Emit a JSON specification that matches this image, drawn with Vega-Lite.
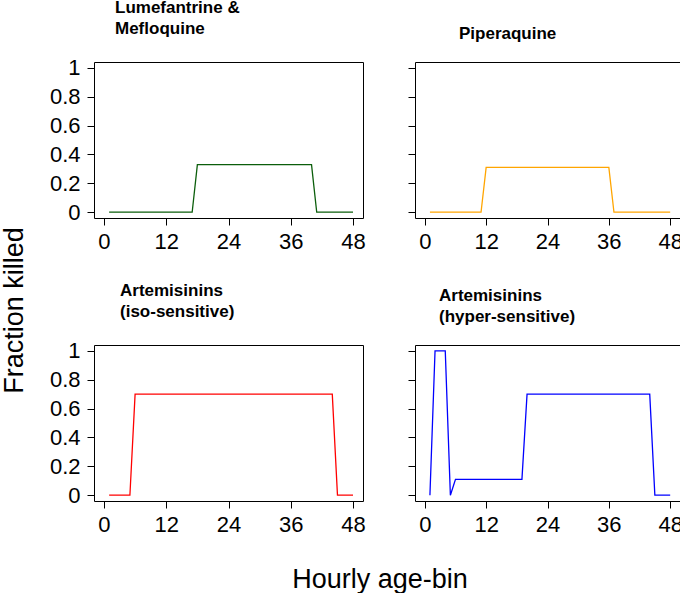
{
  "$schema": "https://vega.github.io/schema/vega-lite/v6.json",
  "padding": {"left": 0, "top": -2, "right": 0, "bottom": 0},
  "background": "white",
  "config": {
    "font": "Liberation Sans",
    "view": {"stroke": "black", "strokeWidth": 1},
    "axis": {
      "domain": false,
      "grid": false,
      "tickSize": 7,
      "tickColor": "black",
      "tickWidth": 1,
      "labelFontSize": 22,
      "labelColor": "black",
      "labelFont": "Liberation Sans",
      "labelFlush": false,
      "labelOverlap": false,
      "titleFontSize": 27,
      "titleFontWeight": "normal",
      "titleColor": "black",
      "titleFont": "Liberation Sans"
    },
    "axisX": {"labelPadding": 6},
    "axisY": {"labelPadding": 7},
    "title": {
      "fontSize": 17,
      "fontWeight": "bold",
      "font": "Liberation Sans",
      "color": "black",
      "anchor": "start",
      "frame": "group",
      "baseline": "bottom",
      "lineHeight": 21,
      "offset": 19
    }
  },
  "datasets": {
    "lm": [
      {"hour":1,"killed":0},{"hour":2,"killed":0},{"hour":3,"killed":0},{"hour":4,"killed":0},{"hour":5,"killed":0},{"hour":6,"killed":0},{"hour":7,"killed":0},{"hour":8,"killed":0},{"hour":9,"killed":0},{"hour":10,"killed":0},{"hour":11,"killed":0},{"hour":12,"killed":0},{"hour":13,"killed":0},{"hour":14,"killed":0},{"hour":15,"killed":0},{"hour":16,"killed":0},{"hour":17,"killed":0},
      {"hour":18,"killed":0.33},{"hour":19,"killed":0.33},{"hour":20,"killed":0.33},{"hour":21,"killed":0.33},{"hour":22,"killed":0.33},{"hour":23,"killed":0.33},{"hour":24,"killed":0.33},{"hour":25,"killed":0.33},{"hour":26,"killed":0.33},{"hour":27,"killed":0.33},{"hour":28,"killed":0.33},{"hour":29,"killed":0.33},{"hour":30,"killed":0.33},{"hour":31,"killed":0.33},{"hour":32,"killed":0.33},{"hour":33,"killed":0.33},{"hour":34,"killed":0.33},{"hour":35,"killed":0.33},{"hour":36,"killed":0.33},{"hour":37,"killed":0.33},{"hour":38,"killed":0.33},{"hour":39,"killed":0.33},{"hour":40,"killed":0.33},
      {"hour":41,"killed":0},{"hour":42,"killed":0},{"hour":43,"killed":0},{"hour":44,"killed":0},{"hour":45,"killed":0},{"hour":46,"killed":0},{"hour":47,"killed":0},{"hour":48,"killed":0}
    ],
    "ppq": [
      {"hour":1,"killed":0},{"hour":2,"killed":0},{"hour":3,"killed":0},{"hour":4,"killed":0},{"hour":5,"killed":0},{"hour":6,"killed":0},{"hour":7,"killed":0},{"hour":8,"killed":0},{"hour":9,"killed":0},{"hour":10,"killed":0},{"hour":11,"killed":0},
      {"hour":12,"killed":0.31},{"hour":13,"killed":0.31},{"hour":14,"killed":0.31},{"hour":15,"killed":0.31},{"hour":16,"killed":0.31},{"hour":17,"killed":0.31},{"hour":18,"killed":0.31},{"hour":19,"killed":0.31},{"hour":20,"killed":0.31},{"hour":21,"killed":0.31},{"hour":22,"killed":0.31},{"hour":23,"killed":0.31},{"hour":24,"killed":0.31},{"hour":25,"killed":0.31},{"hour":26,"killed":0.31},{"hour":27,"killed":0.31},{"hour":28,"killed":0.31},{"hour":29,"killed":0.31},{"hour":30,"killed":0.31},{"hour":31,"killed":0.31},{"hour":32,"killed":0.31},{"hour":33,"killed":0.31},{"hour":34,"killed":0.31},{"hour":35,"killed":0.31},{"hour":36,"killed":0.31},
      {"hour":37,"killed":0},{"hour":38,"killed":0},{"hour":39,"killed":0},{"hour":40,"killed":0},{"hour":41,"killed":0},{"hour":42,"killed":0},{"hour":43,"killed":0},{"hour":44,"killed":0},{"hour":45,"killed":0},{"hour":46,"killed":0},{"hour":47,"killed":0},{"hour":48,"killed":0}
    ],
    "iso": [
      {"hour":1,"killed":0},{"hour":2,"killed":0},{"hour":3,"killed":0},{"hour":4,"killed":0},{"hour":5,"killed":0},
      {"hour":6,"killed":0.7},{"hour":7,"killed":0.7},{"hour":8,"killed":0.7},{"hour":9,"killed":0.7},{"hour":10,"killed":0.7},{"hour":11,"killed":0.7},{"hour":12,"killed":0.7},{"hour":13,"killed":0.7},{"hour":14,"killed":0.7},{"hour":15,"killed":0.7},{"hour":16,"killed":0.7},{"hour":17,"killed":0.7},{"hour":18,"killed":0.7},{"hour":19,"killed":0.7},{"hour":20,"killed":0.7},{"hour":21,"killed":0.7},{"hour":22,"killed":0.7},{"hour":23,"killed":0.7},{"hour":24,"killed":0.7},{"hour":25,"killed":0.7},{"hour":26,"killed":0.7},{"hour":27,"killed":0.7},{"hour":28,"killed":0.7},{"hour":29,"killed":0.7},{"hour":30,"killed":0.7},{"hour":31,"killed":0.7},{"hour":32,"killed":0.7},{"hour":33,"killed":0.7},{"hour":34,"killed":0.7},{"hour":35,"killed":0.7},{"hour":36,"killed":0.7},{"hour":37,"killed":0.7},{"hour":38,"killed":0.7},{"hour":39,"killed":0.7},{"hour":40,"killed":0.7},{"hour":41,"killed":0.7},{"hour":42,"killed":0.7},{"hour":43,"killed":0.7},{"hour":44,"killed":0.7},
      {"hour":45,"killed":0},{"hour":46,"killed":0},{"hour":47,"killed":0},{"hour":48,"killed":0}
    ],
    "hyper": [
      {"hour":1,"killed":0},{"hour":2,"killed":1},{"hour":3,"killed":1},{"hour":4,"killed":1},{"hour":5,"killed":0},
      {"hour":6,"killed":0.11},{"hour":7,"killed":0.11},{"hour":8,"killed":0.11},{"hour":9,"killed":0.11},{"hour":10,"killed":0.11},{"hour":11,"killed":0.11},{"hour":12,"killed":0.11},{"hour":13,"killed":0.11},{"hour":14,"killed":0.11},{"hour":15,"killed":0.11},{"hour":16,"killed":0.11},{"hour":17,"killed":0.11},{"hour":18,"killed":0.11},{"hour":19,"killed":0.11},
      {"hour":20,"killed":0.7},{"hour":21,"killed":0.7},{"hour":22,"killed":0.7},{"hour":23,"killed":0.7},{"hour":24,"killed":0.7},{"hour":25,"killed":0.7},{"hour":26,"killed":0.7},{"hour":27,"killed":0.7},{"hour":28,"killed":0.7},{"hour":29,"killed":0.7},{"hour":30,"killed":0.7},{"hour":31,"killed":0.7},{"hour":32,"killed":0.7},{"hour":33,"killed":0.7},{"hour":34,"killed":0.7},{"hour":35,"killed":0.7},{"hour":36,"killed":0.7},{"hour":37,"killed":0.7},{"hour":38,"killed":0.7},{"hour":39,"killed":0.7},{"hour":40,"killed":0.7},{"hour":41,"killed":0.7},{"hour":42,"killed":0.7},{"hour":43,"killed":0.7},{"hour":44,"killed":0.7},
      {"hour":45,"killed":0},{"hour":46,"killed":0},{"hour":47,"killed":0},{"hour":48,"killed":0}
    ]
  },
  "columns": 2,
  "spacing": {"row": 127, "column": 52},
  "bounds": "flush",
  "concat": [
    {
      "width": 269,
      "height": 156,
      "data": {"name": "lm"},
      "title": {"text": ["Lumefantrine &", "Mefloquine"], "dx": 21},
      "mark": {"type": "line", "color": "#0b5e0b", "strokeWidth": 1.3},
      "encoding": {
        "x": {"field": "hour", "type": "quantitative", "scale": {"domain": [-1.92, 49.92], "nice": false, "zero": false}, "axis": {"values": [0, 12, 24, 36, 48], "title": null}},
        "y": {"field": "killed", "type": "quantitative", "scale": {"domain": [-0.04, 1.04], "nice": false, "zero": false}, "axis": {"values": [0, 0.2, 0.4, 0.6, 0.8, 1], "format": "~g", "title": "Fraction killed", "titleX": -79.5, "titleY": 248, "titleAngle": 270, "titleAlign": "center", "titleBaseline": "middle"}}
      }
    },
    {
      "width": 265,
      "height": 156,
      "data": {"name": "ppq"},
      "title": {"text": "Piperaquine", "dx": 44},
      "mark": {"type": "line", "color": "#ffa500", "strokeWidth": 1.3},
      "encoding": {
        "x": {"field": "hour", "type": "quantitative", "scale": {"domain": [-1.92, 49.92], "nice": false, "zero": false}, "axis": {"values": [0, 12, 24, 36, 48], "title": null}},
        "y": {"field": "killed", "type": "quantitative", "scale": {"domain": [-0.04, 1.04], "nice": false, "zero": false}, "axis": {"values": [0, 0.2, 0.4, 0.6, 0.8, 1], "labels": false, "title": null}}
      }
    },
    {
      "width": 269,
      "height": 156,
      "data": {"name": "iso"},
      "title": {"text": ["Artemisinins", "(iso-sensitive)"], "dx": 26},
      "mark": {"type": "line", "color": "#ff0000", "strokeWidth": 1.3},
      "encoding": {
        "x": {"field": "hour", "type": "quantitative", "scale": {"domain": [-1.92, 49.92], "nice": false, "zero": false}, "axis": {"values": [0, 12, 24, 36, 48], "title": "Hourly age-bin", "titleX": 285.5, "titleY": 86, "titleAlign": "center", "titleBaseline": "alphabetic"}},
        "y": {"field": "killed", "type": "quantitative", "scale": {"domain": [-0.04, 1.04], "nice": false, "zero": false}, "axis": {"values": [0, 0.2, 0.4, 0.6, 0.8, 1], "format": "~g", "title": null}}
      }
    },
    {
      "width": 265,
      "height": 156,
      "data": {"name": "hyper"},
      "title": {"text": ["Artemisinins", "(hyper-sensitive)"], "dx": 24},
      "mark": {"type": "line", "color": "#0000ff", "strokeWidth": 1.3},
      "encoding": {
        "x": {"field": "hour", "type": "quantitative", "scale": {"domain": [-1.92, 49.92], "nice": false, "zero": false}, "axis": {"values": [0, 12, 24, 36, 48], "title": null}},
        "y": {"field": "killed", "type": "quantitative", "scale": {"domain": [-0.04, 1.04], "nice": false, "zero": false}, "axis": {"values": [0, 0.2, 0.4, 0.6, 0.8, 1], "labels": false, "title": null}}
      }
    }
  ]
}
